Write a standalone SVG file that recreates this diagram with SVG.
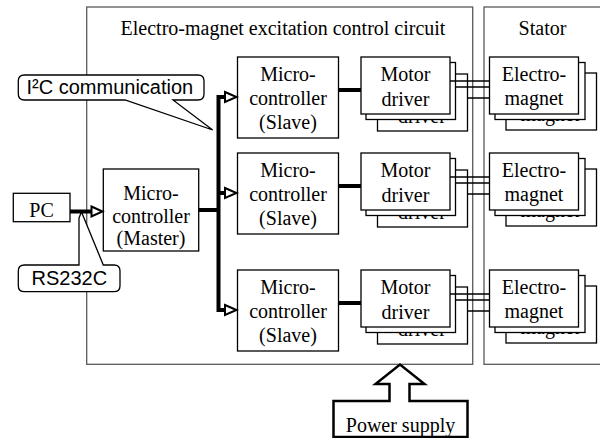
<svg xmlns="http://www.w3.org/2000/svg" width="600" height="438" viewBox="0 0 600 438">
<defs>
<style>
.t{font-family:"Liberation Serif","Times New Roman",serif;font-size:20px;fill:#000;text-anchor:middle}
.s{font-family:"Liberation Sans",Arial,sans-serif;font-size:20px;fill:#000}
.frame{fill:none;stroke:#5a5a5a;stroke-width:1.3}
.box{fill:#fff;stroke:#000;stroke-width:1.3}
.thick{fill:none;stroke:#000;stroke-width:4;stroke-linejoin:miter}
.wire{fill:none;stroke:#000;stroke-width:1.3}
.head{fill:#fff;stroke:#000;stroke-width:2;stroke-linejoin:miter}
.bubble{fill:#fff;stroke:#000;stroke-width:1.3}
</style>
</defs>
<rect width="600" height="438" fill="#fff"/>

<g id="control-circuit">
<rect class="frame" x="86.7" y="7" width="386" height="357.3"/>
<text class="t" x="283" y="35">Electro-magnet excitation control circuit</text>
</g>
<g id="stator">
<rect class="frame" x="484" y="7" width="130" height="357.3"/>
<text class="t" x="542.5" y="35">Stator</text>
</g>

<g id="pc">
<rect class="box" x="13.3" y="193.3" width="56.7" height="28.4"/>
<text class="t" x="41.5" y="216.5">PC</text>
</g>

<g id="master">
<rect class="box" x="103.3" y="169" width="95.4" height="82"/>
<text class="t"><tspan x="151" y="200">Micro-</tspan><tspan x="151" y="222.5">controller</tspan><tspan x="151" y="245">(Master)</tspan></text>
</g>

<g id="slave-1">
<rect class="box" x="237.5" y="57" width="101" height="81"/>
<text class="t"><tspan x="288" y="81">Micro-</tspan><tspan x="288" y="105">controller</tspan><tspan x="288" y="129">(Slave)</tspan></text>
</g>
<g id="slave-2">
<rect class="box" x="237.5" y="153" width="101" height="81"/>
<text class="t"><tspan x="288" y="177">Micro-</tspan><tspan x="288" y="201">controller</tspan><tspan x="288" y="225">(Slave)</tspan></text>
</g>
<g id="slave-3">
<rect class="box" x="237.5" y="270" width="101" height="81"/>
<text class="t"><tspan x="288" y="294">Micro-</tspan><tspan x="288" y="318">controller</tspan><tspan x="288" y="342">(Slave)</tspan></text>
</g>

<g id="motor-driver-1">
<rect class="box" x="377.5" y="74" width="90" height="57"/>
<text class="t" x="422" y="122.5">driver</text>
<rect class="box" x="366" y="62.5" width="89.5" height="57"/>
<rect class="box" x="361" y="57" width="89" height="57"/>
<text class="t"><tspan x="405.5" y="80.5">Motor</tspan><tspan x="405.5" y="105.5">driver</tspan></text>
</g>
<g id="motor-driver-2">
<rect class="box" x="377.5" y="170" width="90" height="57"/>
<text class="t" x="422" y="218.5">driver</text>
<rect class="box" x="366" y="158.5" width="89.5" height="57"/>
<rect class="box" x="361" y="153" width="89" height="57"/>
<text class="t"><tspan x="405.5" y="176.5">Motor</tspan><tspan x="405.5" y="201.5">driver</tspan></text>
</g>
<g id="motor-driver-3">
<rect class="box" x="377.5" y="287" width="90" height="57"/>
<text class="t" x="422" y="335.5">driver</text>
<rect class="box" x="366" y="275.5" width="89.5" height="57"/>
<rect class="box" x="361" y="270" width="89" height="57"/>
<text class="t"><tspan x="405.5" y="293.5">Motor</tspan><tspan x="405.5" y="318.5">driver</tspan></text>
</g>

<g id="electromagnet-1">
<rect class="box" x="506" y="73" width="90.5" height="57"/>
<text class="t" x="550" y="121">magnet</text>
<rect class="box" x="495" y="62.5" width="90" height="57"/>
<rect class="box" x="489.5" y="57" width="89" height="57"/>
<text class="t"><tspan x="534" y="80.5">Electro-</tspan><tspan x="534" y="105">magnet</tspan></text>
</g>
<g id="electromagnet-2">
<rect class="box" x="506" y="169" width="90.5" height="57"/>
<text class="t" x="550" y="217">magnet</text>
<rect class="box" x="495" y="158.5" width="90" height="57"/>
<rect class="box" x="489.5" y="153" width="89" height="57"/>
<text class="t"><tspan x="534" y="176.5">Electro-</tspan><tspan x="534" y="201">magnet</tspan></text>
</g>
<g id="electromagnet-3">
<rect class="box" x="506" y="286" width="90.5" height="57"/>
<text class="t" x="550" y="334">magnet</text>
<rect class="box" x="495" y="275.5" width="90" height="57"/>
<rect class="box" x="489.5" y="270" width="89" height="57"/>
<text class="t"><tspan x="534" y="293.5">Electro-</tspan><tspan x="534" y="318">magnet</tspan></text>
</g>

<g id="i2c-label">
<path class="bubble" d="M24.5,75 H198 Q204,75 204,81 V94 Q204,100 198,100 H173 L212.7,130 L125,100 H24.5 Q18.3,100 18.3,94 V81 Q18.3,75 24.5,75 Z"/>
<text class="s" x="26.5" y="94">I²C communication</text>
</g>
<g id="rs232c-label">
<path class="bubble" d="M24.5,265 H79 V218 L81.5,212 L103.3,265 H114 Q120,265 120,271 V285.7 Q120,291.7 114,291.7 H24.5 Q18.3,291.7 18.3,285.7 V271 Q18.3,265 24.5,265 Z"/>
<text class="s" x="31.5" y="285">RS232C</text>
</g>

<g id="power-supply">
<path d="M333.5,401 H389.5 V384 H375.5 L400,364.5 L424.5,384 H409.5 V401 H467.5 V437 H333.5 Z" fill="#fff" stroke="#000" stroke-width="2.5" stroke-linejoin="miter"/>
<text class="t" x="400.5" y="431.5">Power supply</text>
</g>

<g id="connectors">
<path class="thick" d="M70,211.5 H92"/>
<polygon class="head" points="91.5,206.5 102.5,211.5 91.5,216.5"/>
<path class="thick" d="M198.7,210 H218.5"/>
<path class="thick" d="M226,97 H218.5 V310 H226"/>
<path class="thick" d="M218.5,193 H226"/>
<polygon class="head" points="225,92 236.5,97 225,102"/>
<polygon class="head" points="225,188 236.5,193 225,198"/>
<polygon class="head" points="225,305 236.5,310 225,315"/>
<path class="thick" d="M338.5,90 H361"/>
<path class="thick" d="M338.5,186 H361"/>
<path class="thick" d="M338.5,303 H361"/>
<path class="wire" d="M450,81 H489.5 M455.5,87 H489.5 M467.5,98 H489.5"/>
<path class="wire" d="M450,177 H489.5 M455.5,183 H489.5 M467.5,194 H489.5"/>
<path class="wire" d="M450,294 H489.5 M455.5,300 H489.5 M467.5,311 H489.5"/>
</g>
</svg>
